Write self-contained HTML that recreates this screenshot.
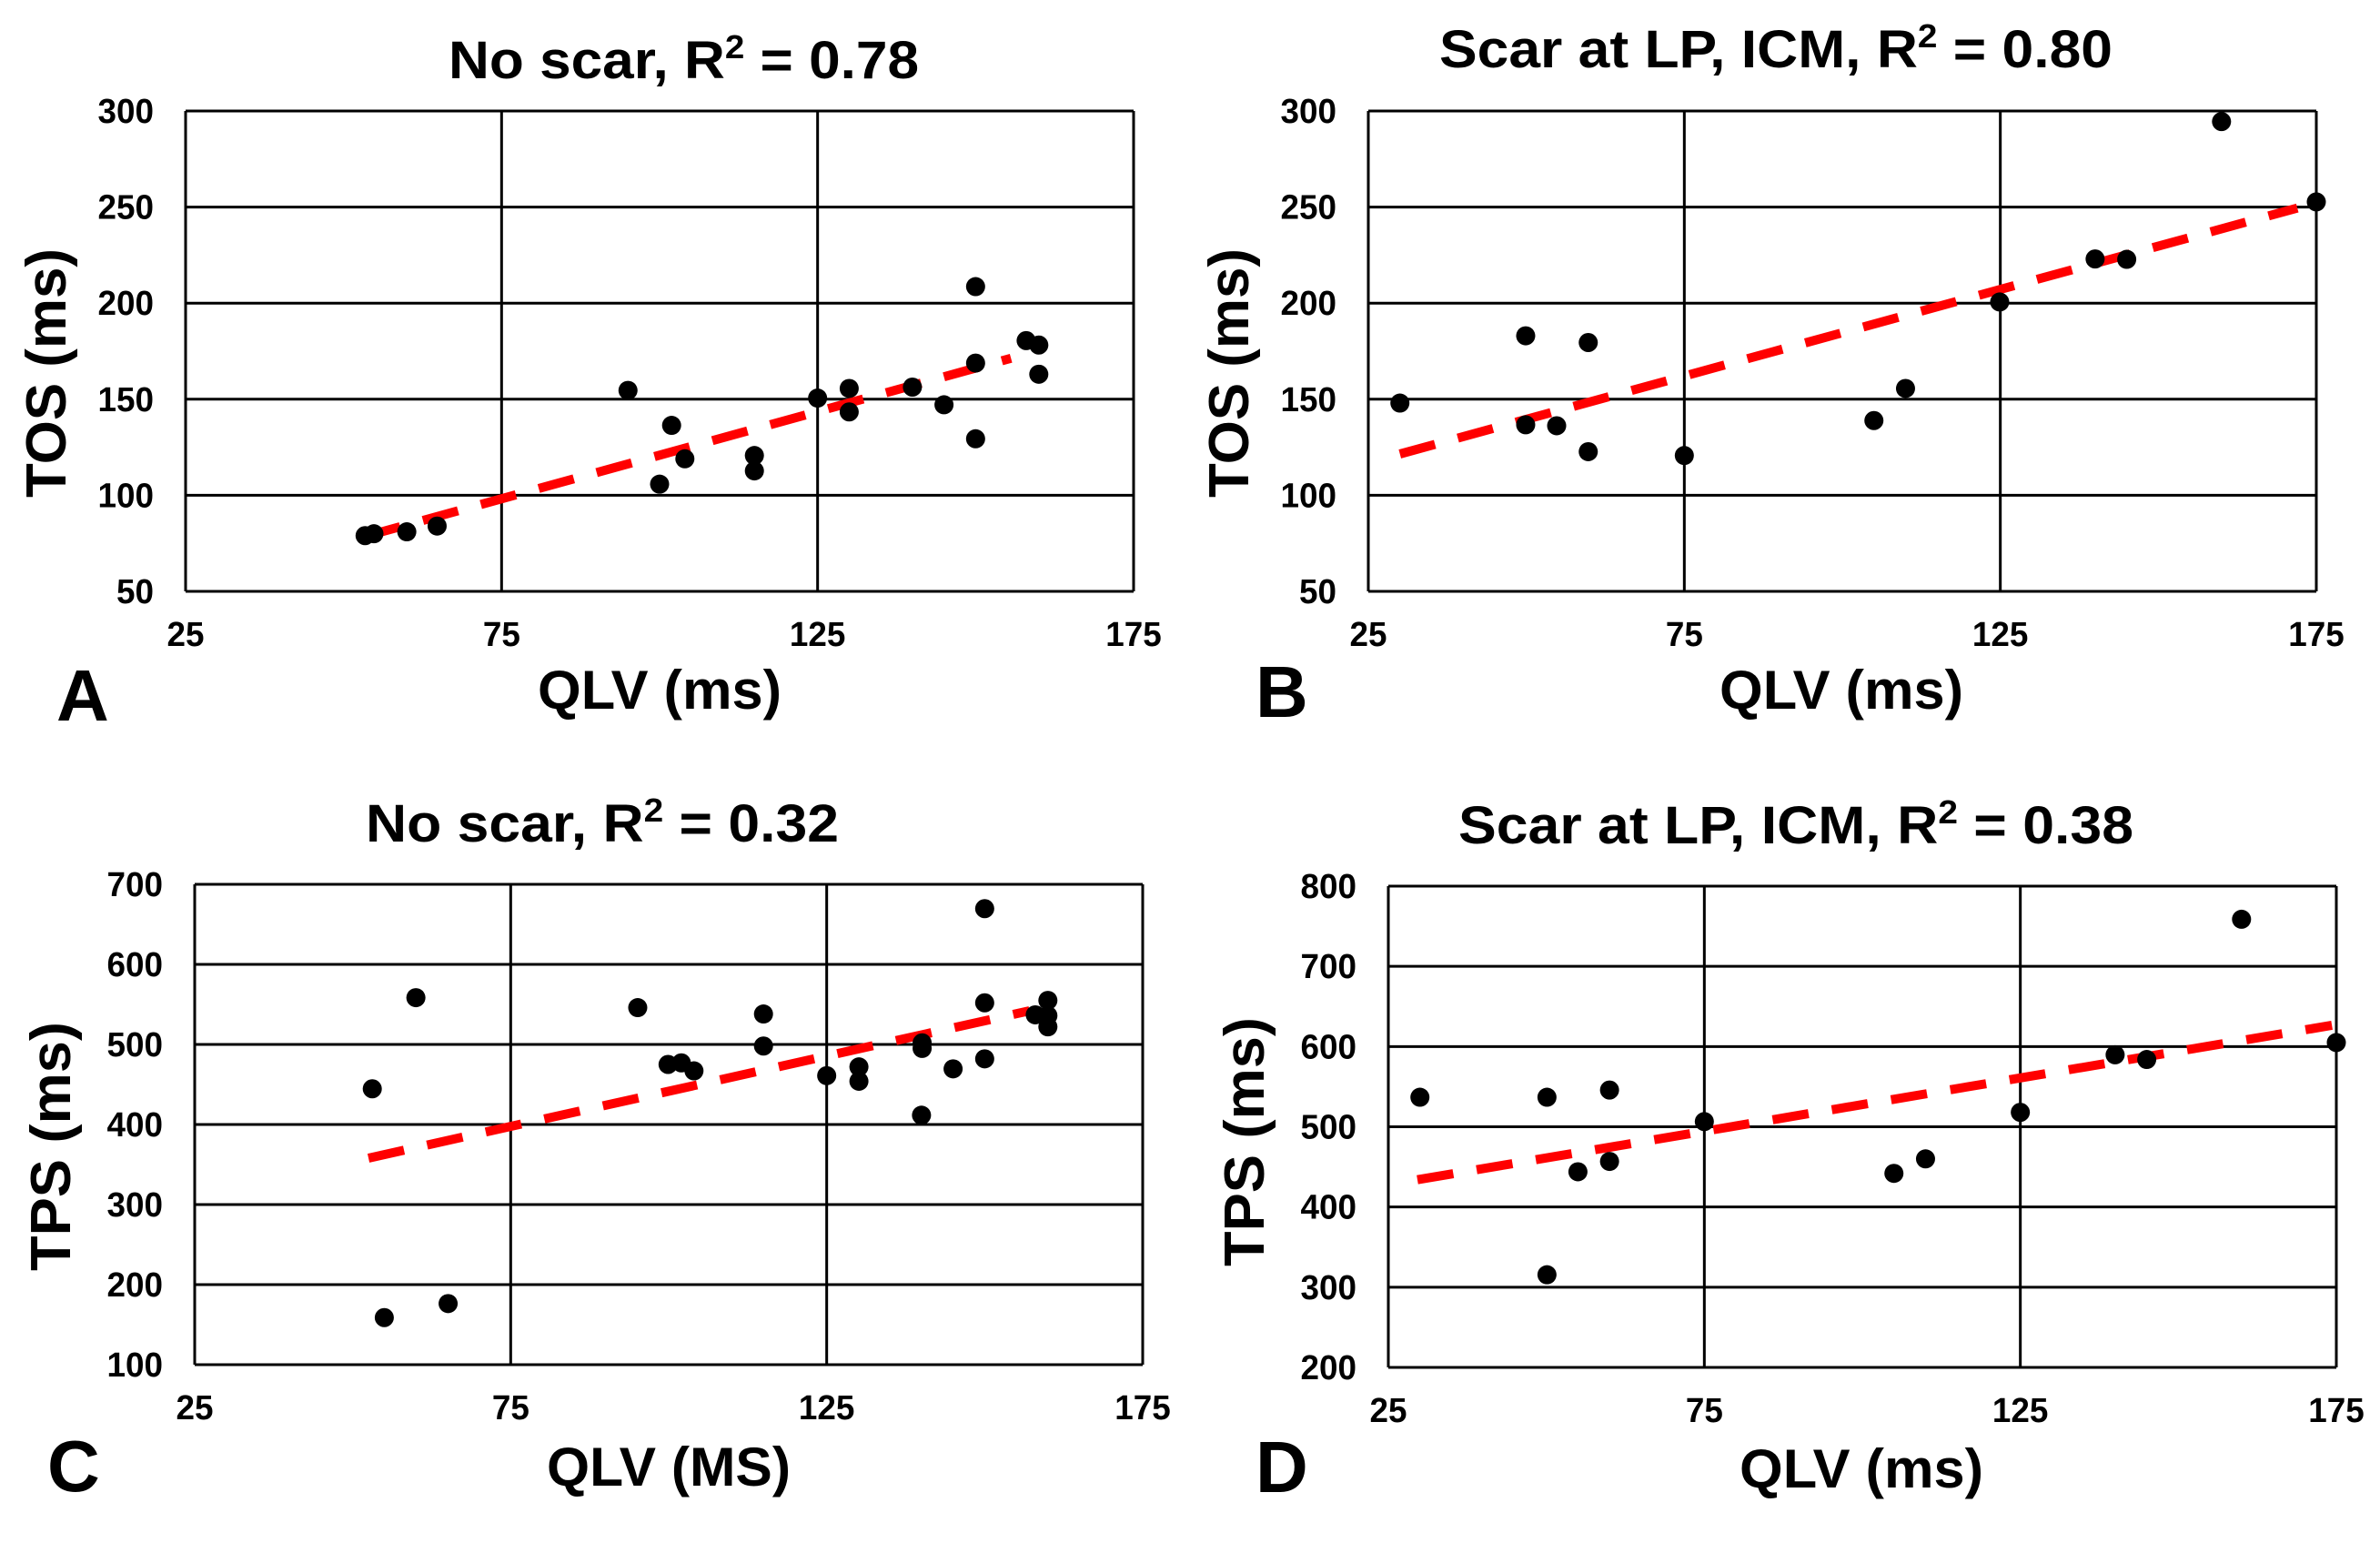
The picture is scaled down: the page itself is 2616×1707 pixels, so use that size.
<!DOCTYPE html>
<html><head><meta charset="utf-8"><style>
html,body{margin:0;padding:0;background:#fff}
svg{display:block}
text{font-family:"Liberation Sans Narrow","Liberation Sans",Arial,sans-serif;font-weight:bold;fill:#000}
.wide{font-family:"Liberation Sans",Arial,sans-serif}
</style></head><body>
<svg id="fig" width="2616" height="1707" viewBox="0 0 2616 1707" xmlns="http://www.w3.org/2000/svg"></svg>
<script>
// Panel A
const aQLV = [53.4,54.8,60,64.8,95,100,101.9,104,115,115,125,130,130,140,145,150,150,150,158,160,160];
const aTOS = [79,80,81,84,154.6,105.8,136.4,119,120.7,112.7,150.6,155.6,143.4,156.3,147.1,208.6,168.8,129.4,180.5,178.2,163];
const aTrendX = [53.4,155.6];
const aTrendY = [78.6,171.3];
// Panel B
const bQLV = [30,49.9,49.9,54.8,59.8,59.8,75,105,110,124.9,140,145,160,175];
const bTOS = [148,183,136.7,136.2,179.5,122.7,120.7,138.9,155.6,200.6,223,222.8,294.5,252.7];
const bTrendX = [30,172];
const bTrendY = [121.5,249.5];
// Panel C
const cQLV = [53.1,55,60,65.1,95.1,99.9,102,104,115,115,125,130.1,130.1,140.1,140.1,140,145,150,150,150,158,160,160,160];
const cTPS = [444.6,158.8,558.4,176.3,546,475,477,467,538,498,461,472,454,502,495,411.6,469.5,669.6,552,482,537,555,536,522];
const cTrendX = [52.5,157.1];
const cTrendY = [358,542];
// Panel D
const dQLV = [30,50.1,55,60,60,75,105,110,125,140,145,160,175,50.1];
const dTPS = [536.8,536.8,443.9,545.8,456.8,506.5,441.9,460,518,589.7,583.9,758.7,605,315.5];
const dTrendX = [29.6,174.3];
const dTrendY = [434,626.5];
// Ticks
const xTicks = [25,75,125,175];
const yTicksTOS = [50,100,150,200,250,300];
const yTicksTPS1 = [100,200,300,400,500,600,700];
const yTicksTPS2 = [200,300,400,500,600,700,800];

const NS = "http://www.w3.org/2000/svg";
const svg = document.getElementById('fig');
function mk(tag, attrs, parent){
  const e = document.createElementNS(NS, tag);
  for (const k in attrs) e.setAttribute(k, attrs[k]);
  (parent||svg).appendChild(e);
  return e;
}
function panel(p){
  const g = mk('g', {});
  
  
  const sx = v => p.L + (v - 25) / 150 * (p.R - p.L);
  const sy = v => p.B - (v - p.ymin) / (p.ymax - p.ymin) * (p.B - p.T);
  p.yt.forEach(v => {
    const l = mk('line', {x1:p.L, x2:p.R, y1:sy(v), y2:sy(v), stroke:'#000', 'stroke-width':3}, g);
    
    
    const t = mk('text', {x:p.L-35, y:sy(v)+13, 'text-anchor':'end', 'font-size':38, textLength:String(v).length*20.5, lengthAdjust:'spacingAndGlyphs'}, g);
    t.textContent = v;
    
    
  });
  xTicks.forEach(v => {
    const l = mk('line', {x1:sx(v), x2:sx(v), y1:p.T, y2:p.B, stroke:'#000', 'stroke-width':3}, g);
    
    
    const t = mk('text', {x:sx(v), y:p.B+60, 'text-anchor':'middle', 'font-size':38, textLength:String(v).length*20.5, lengthAdjust:'spacingAndGlyphs'}, g);
    t.textContent = v;
    
    
  });
  const tr = mk('line', {x1:sx(p.tx[0]), y1:sy(p.ty[0]), x2:sx(p.tx[1]), y2:sy(p.ty[1]), stroke:'#ff0000', 'stroke-width':10, 'stroke-dasharray':'40 26'}, g);
  
  
  p.xs.forEach((x, i) => {
    const c = mk('ellipse', {cx:sx(x), cy:sy(p.ys[i]), rx:10.5, ry:10.5, fill:'#000'}, g);
    
    
  });
  const tt = mk('text', {x:p.titleX, y:p.titleY, 'font-size':58, textLength:p.titleW, lengthAdjust:'spacingAndGlyphs'}, g);
  tt.innerHTML = p.title + ', R<tspan dy="-22" font-size="36">2</tspan><tspan dy="22"> = ' + p.r2 + '</tspan>';
  
  
  const xt = mk('text', {x:p.xtX, y:p.xtY, 'text-anchor':'middle', 'font-size':60, textLength:268, lengthAdjust:'spacingAndGlyphs'}, g);
  xt.textContent = p.xlab;
  
  
  const yt = mk('text', {x:0, y:0, 'text-anchor':'middle', 'font-size':62, class:'wide', transform:'translate(' + (p.ytX + 22) + ',' + p.ytY + ') rotate(-90)', textLength:274, lengthAdjust:'spacingAndGlyphs'}, g);
  yt.textContent = p.ylab;
  
  
  const lt = mk('text', {x:p.lX, y:p.lY, 'font-size':80, class:'wide'}, g);
  lt.textContent = p.id;
  
  
}
panel({id:'A', L:204, R:1246, T:122, B:650, ymin:50, ymax:300, yt:yTicksTOS, xs:aQLV, ys:aTOS, tx:aTrendX, ty:aTrendY,
  title:'No scar', r2:'0.78', titleX:493, titleY:86, titleW:517, xlab:'QLV (ms)', xtX:725, xtY:779, ylab:'TOS (ms)', ytX:50, ytY:410, lX:62, lY:792});
panel({id:'B', L:1504, R:2546, T:122, B:650, ymin:50, ymax:300, yt:yTicksTOS, xs:bQLV, ys:bTOS, tx:bTrendX, ty:bTrendY,
  title:'Scar at LP, ICM', r2:'0.80', titleX:1582, titleY:74, titleW:740, xlab:'QLV (ms)', xtX:2024, xtY:779, ylab:'TOS (ms)', ytX:1350, ytY:410, lX:1380, lY:788});
panel({id:'C', L:214, R:1256, T:972, B:1500, ymin:100, ymax:700, yt:yTicksTPS1, xs:cQLV, ys:cTPS, tx:cTrendX, ty:cTrendY,
  title:'No scar', r2:'0.32', titleX:402, titleY:925, titleW:520, xlab:'QLV (MS)', xtX:735, xtY:1633, ylab:'TPS (ms)', ytX:55, ytY:1260, lX:52, lY:1639});
panel({id:'D', L:1526, R:2568, T:974, B:1503, ymin:200, ymax:800, yt:yTicksTPS2, xs:dQLV, ys:dTPS, tx:dTrendX, ty:dTrendY,
  title:'Scar at LP, ICM', r2:'0.38', titleX:1603, titleY:927, titleW:742, xlab:'QLV (ms)', xtX:2046, xtY:1635, ylab:'TPS (ms)', ytX:1367, ytY:1255, lX:1380, lY:1640});
</script>
</body></html>
